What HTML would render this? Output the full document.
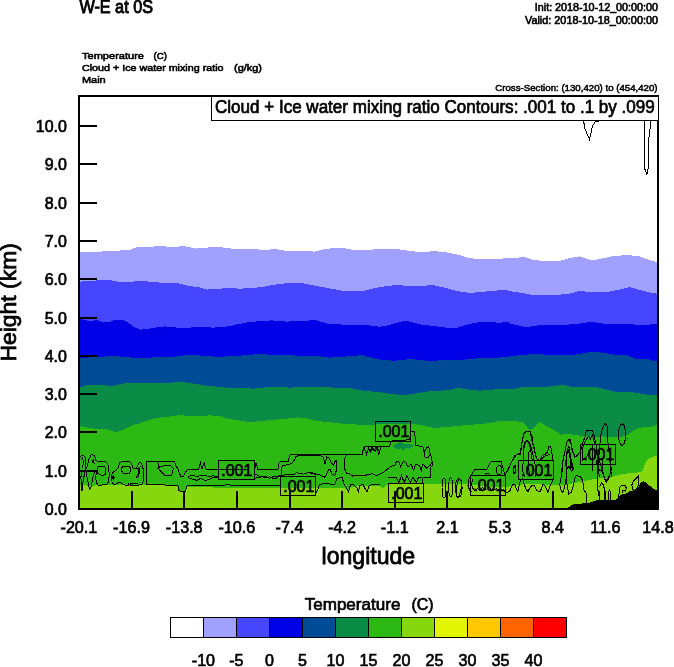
<!DOCTYPE html>
<html><head><meta charset="utf-8"><title>W-E at 0S</title>
<style>html,body{margin:0;padding:0;background:#fff}svg{display:block}text{font-family:"Liberation Sans",sans-serif;fill:#000}</style></head><body>
<svg width="674" height="667" viewBox="0 0 674 667">
<rect width="674" height="667" fill="#fff"/>
<g shape-rendering="crispEdges">
<polygon fill="#A0A0FF" points="79.0,252.3 80.4,252.3 96.0,251.8 114.0,250.9 129.6,249.9 135.6,247.5 150.0,246.8 159.6,246.1 174.0,247.0 183.5,246.1 195.5,248.5 207.5,247.5 217.1,246.8 226.7,248.0 236.3,249.2 238.0,249.2 250.0,248.5 262.0,249.9 276.4,249.2 286.0,250.9 300.4,250.9 314.8,251.6 324.4,249.2 334.0,248.0 343.5,248.0 355.5,250.4 367.5,249.7 381.9,249.2 396.3,249.2 398.0,249.2 410.0,250.9 422.0,252.3 434.0,251.1 446.0,252.3 458.0,254.7 470.0,258.3 484.4,259.3 498.7,258.8 510.0,258.1 510.7,258.1 524.4,257.1 534.0,260.0 546.0,261.2 558.0,261.2 570.0,258.1 579.6,256.4 591.6,260.5 603.6,258.1 615.5,255.7 629.9,255.2 639.5,256.4 649.1,260.0 656.8,261.9 658.0,261.9 658.0,509.0 79.0,509.0"/>
<polygon fill="#4646FF" points="79.0,281.6 80.4,281.6 97.2,280.4 109.2,279.9 121.2,282.3 129.6,282.3 138.0,280.9 150.0,281.6 162.0,282.8 178.7,283.5 188.3,285.9 197.9,287.1 207.5,289.5 217.1,289.3 226.7,287.6 236.3,288.3 238.0,288.8 250.0,288.1 262.0,287.1 274.0,284.7 286.0,283.3 302.8,283.3 314.8,285.7 329.2,288.3 341.1,290.5 353.1,290.7 365.1,290.5 377.1,287.6 389.1,285.7 396.3,285.2 398.0,285.2 410.0,285.9 422.0,285.7 434.0,285.2 446.0,288.1 458.0,291.2 470.0,292.9 482.0,291.9 494.0,290.7 505.9,290.0 510.0,291.2 522.0,292.9 534.0,295.3 546.0,294.8 558.0,294.8 570.0,293.6 579.6,290.7 591.6,292.4 606.0,292.4 617.9,290.0 629.9,287.1 639.5,290.0 649.1,292.4 656.8,293.6 658.0,293.6 658.0,509.0 79.0,509.0"/>
<polygon fill="#0000E6" points="79.0,318.8 80.4,318.8 87.6,320.7 97.2,320.4 104.4,322.4 109.2,322.4 114.0,320.0 123.6,320.0 129.6,323.6 134.4,327.2 140.4,329.6 147.6,329.1 154.8,327.6 164.4,326.4 174.0,327.2 183.5,328.4 193.1,327.2 202.7,326.7 212.3,327.6 221.9,327.2 231.5,326.0 236.3,324.3 238.0,324.3 247.6,322.4 259.6,321.2 271.6,320.4 286.0,321.6 300.4,321.2 314.8,320.0 322.0,321.9 329.2,324.3 338.7,324.3 348.3,325.2 357.9,324.8 367.5,325.2 379.5,326.7 389.1,325.2 396.3,322.8 398.0,322.4 405.2,320.7 412.4,322.4 422.0,324.8 434.0,326.0 446.0,327.6 455.6,328.4 465.2,325.2 477.2,322.4 489.2,321.9 498.7,322.8 508.3,321.9 510.0,323.6 517.2,325.2 526.8,327.2 538.8,325.2 550.8,324.8 565.2,324.8 579.6,323.6 591.6,321.9 606.0,324.0 617.9,323.6 629.9,324.3 639.5,324.8 646.7,325.2 653.9,323.6 656.8,323.6 658.0,323.6 658.0,509.0 79.0,509.0"/>
<polygon fill="#004B96" points="79.0,357.9 80.4,357.9 97.2,357.1 114.0,355.9 126.0,357.1 140.4,358.3 157.2,357.1 174.0,356.7 185.9,355.2 197.9,355.2 207.5,356.4 221.9,356.7 236.3,355.9 238.0,355.9 250.0,354.7 262.0,354.0 274.0,355.2 290.8,355.2 305.2,356.4 317.2,355.9 329.2,357.6 343.5,356.7 353.1,355.9 362.7,355.2 372.3,357.9 384.3,360.3 396.3,360.7 398.0,360.3 410.0,359.1 422.0,360.0 429.2,361.2 441.2,360.3 453.2,360.0 465.2,359.5 477.2,358.3 494.0,357.9 508.3,356.7 510.0,355.9 522.0,355.2 534.0,353.5 546.0,354.7 558.0,355.2 572.4,355.2 582.0,353.5 591.6,351.6 603.6,352.8 615.5,354.7 627.5,355.2 637.1,359.5 646.7,359.1 653.9,360.7 656.8,361.2 658.0,361.2 658.0,509.0 79.0,509.0"/>
<polygon fill="#0A8C46" points="79.0,387.1 80.4,387.1 87.6,385.2 97.2,384.7 111.6,385.9 126.0,383.0 140.4,382.8 157.2,382.8 169.2,382.8 181.1,381.8 193.1,383.5 207.5,385.9 221.9,387.1 231.5,388.3 236.3,387.6 238.0,387.6 245.2,387.6 252.4,388.8 262.0,387.6 276.4,387.1 290.8,387.6 305.2,387.1 319.6,387.1 334.0,387.6 350.7,388.3 362.7,390.7 377.1,391.9 389.1,393.6 396.3,394.3 398.0,394.8 407.6,394.8 417.2,393.1 429.2,391.4 441.2,390.7 450.8,389.5 458.0,387.8 467.6,389.5 479.6,390.7 494.0,389.5 505.9,388.8 510.0,389.5 522.0,387.1 534.0,387.1 548.4,386.6 562.8,384.7 572.4,387.1 582.0,387.1 594.0,386.6 606.0,389.5 615.5,391.9 629.9,391.9 644.3,394.3 656.8,395.5 658.0,395.5 658.0,509.0 79.0,509.0"/>
<polygon fill="#2DB914" points="79.0,426.2 80.1,426.2 90.6,428.3 99.0,428.9 107.4,429.3 115.8,432.1 124.2,429.3 132.6,425.1 141.0,423.0 149.4,419.9 157.8,417.8 168.3,416.7 178.7,415.3 189.2,415.7 199.7,416.1 210.2,415.3 216.5,416.1 218.0,415.7 228.5,418.8 239.0,420.5 249.5,422.0 260.0,421.3 272.6,419.9 285.2,418.8 297.8,417.4 306.2,418.4 316.7,420.9 327.1,422.0 339.7,423.4 348.1,424.1 356.5,424.5 358.0,424.5 374.8,424.5 410.5,423.7 421.0,425.1 433.6,427.9 446.2,427.2 458.7,425.8 471.3,424.7 483.9,423.7 496.5,422.0 498.0,420.9 510.6,420.9 523.2,422.0 529.5,430.4 534.7,427.2 540.0,422.0 546.3,426.2 554.7,430.4 558.9,433.5 560.0,434.7 566.6,433.9 573.2,434.7 579.8,435.6 586.4,436.4 593.0,437.2 602.9,436.4 612.8,437.2 619.4,437.2 626.0,435.6 630.9,432.3 635.9,429.0 642.5,427.3 649.1,427.3 657.3,424.8 658.0,424.8 658.0,509.0 79.0,509.0"/>
<polygon fill="#87D70F" points="79.0,485.0 80.0,485.0 91.0,486.0 99.0,485.0 120.0,485.0 145.0,484.5 170.0,485.0 177.0,486.0 179.0,491.5 185.0,491.5 188.0,486.5 195.0,487.0 220.0,487.7 250.0,488.0 280.0,488.0 316.0,487.8 343.0,487.5 346.0,489.0 348.0,491.0 351.0,487.0 360.0,486.0 378.0,485.5 383.0,488.0 387.0,485.0 388.0,484.5 395.0,484.0 423.0,483.8 440.0,483.5 468.0,483.8 475.0,485.0 485.0,486.5 500.0,487.2 506.0,487.0 512.0,486.0 518.0,485.0 524.0,484.3 530.0,484.0 545.0,484.6 558.0,485.3 565.4,484.9 572.8,483.4 580.3,481.9 587.7,480.4 595.1,478.9 602.5,478.2 609.9,477.4 617.3,475.5 624.8,473.7 632.2,473.0 639.6,472.3 642.6,470.8 644.0,466.3 645.5,462.6 648.5,458.9 653.0,456.7 657.0,456.0 658.0,456.0 658.0,509.0 79.0,509.0"/>
<polygon fill="#0A8C46" points="392.3,446.1 396.0,444.0 398.6,442.5 400.1,439.3 401.7,442.5 404.3,444.0 408.4,443.5 411.0,444.5 413.6,446.1 411.0,447.7 408.4,448.7 405.8,447.7 403.2,450.3 400.6,448.2 397.5,449.2 394.9,448.2"/>
<polygon fill="#000" points="566.5,509.0 568.0,507.8 571.2,505.7 573.2,504.1 581.5,503.6 589.8,502.6 597.1,500.0 604.4,500.0 615.8,500.0 618.9,495.8 622.0,494.3 626.2,493.7 629.3,491.2 634.5,490.1 638.6,487.0 640.7,482.8 643.8,481.3 646.9,483.4 651.1,487.0 654.2,489.1 657.3,490.1 658.0,509.0"/>
</g>
<g fill="none" stroke="#000" stroke-width="1" shape-rendering="crispEdges">
<polyline points="583.5,120.7 585.0,129.0 589.5,139.5 592.5,126.0 595.5,121.5 599.2,121.5"/>
<polyline points="644.5,120.7 644.5,168.0 646.9,174.7 648.3,168.0 648.7,139.5 651.0,120.7"/>
<polyline points="80.2,456.5 82.9,455.1 85.1,457.3 85.6,463.6 85.1,468.9 84.7,472.5 83.8,477.8 82.9,482.3 82.5,487.6 82.0,491.2 81.1,487.6 81.6,482.3 80.7,477.8 82.0,472.5"/>
<polyline points="81.1,458.7 82.5,457.8 83.3,460.9 82.9,466.2 82.0,468.0"/>
<polyline points="86.5,468.9 87.8,463.6 89.6,457.3 91.4,454.7 94.0,455.1 95.4,458.2 95.8,460.9 98.9,461.3 105.6,461.3 107.8,463.6 108.7,468.0 109.2,474.3 108.7,481.4 106.5,484.5 98.5,485.4 96.2,482.7 95.8,477.8 96.2,472.5 97.1,469.8"/>
<polyline points="86.9,469.8 86.5,474.3 87.8,481.4 89.1,487.6 90.0,489.4 91.4,485.8 92.7,477.8 94.5,472.5 95.8,469.8"/>
<polyline points="92.2,460.5 93.6,459.6 94.0,463.1 92.7,462.7 92.2,460.5"/>
<polyline points="98.0,466.7 103.8,466.2 105.6,467.6 106.0,473.4 104.7,474.7 102.0,475.6 99.4,474.3 97.1,473.4 97.1,469.8 98.0,466.7"/>
<polyline points="111.8,481.4 111.4,476.0 112.7,472.5 116.3,469.8 118.5,467.1 119.8,462.7 122.5,461.3 129.2,461.3 131.4,463.1 132.3,466.2 133.2,468.5 138.0,468.9"/>
<polyline points="111.8,481.4 113.6,484.5 116.3,484.0 118.5,482.3 121.6,483.2 126.1,485.4 129.2,484.9 130.5,484.0 138.0,483.6"/>
<polyline points="122.1,467.1 123.8,466.2 128.7,466.2 130.5,468.0 130.5,471.6 128.7,473.8 124.3,473.8 122.1,472.0 121.6,468.9 122.1,467.1"/>
<polyline points="112.3,476.5 113.2,475.6 114.1,477.4 113.2,479.2 112.3,478.3 112.3,476.5"/>
<polyline points="133.3,468.5 136.0,468.5 137.8,465.4 139.1,462.7 140.5,462.2 142.2,465.4 143.6,470.7 143.6,480.5 141.8,484.9 130.7,485.4 128.0,483.6"/>
<polyline points="139.1,468.0 140.0,467.1 139.6,472.5 137.8,477.4 136.5,477.4 138.2,473.4 139.1,468.0"/>
<polyline points="146.2,484.0 146.2,463.6 147.1,461.3 174.3,461.3 176.1,466.2 177.9,468.5 180.5,476.0 183.2,476.9 185.9,471.6 188.0,468.9"/>
<polyline points="146.2,484.0 163.6,484.0 165.4,485.4 177.9,485.4 178.7,490.3 181.4,491.6 185.0,491.6 186.8,487.6 187.2,484.9"/>
<polyline points="157.4,461.3 158.7,465.4 157.8,468.9 159.2,467.1 164.5,465.4 170.7,465.4 173.4,468.5 172.5,472.9 171.2,475.1 164.5,475.1 161.8,472.5 159.2,469.4"/>
<polyline points="186.7,469.7 198.7,469.0 200.5,462.6 202.1,468.8 204.1,462.6 205.8,469.0 218.4,469.7 248.0,469.7"/>
<polyline points="186.7,485.1 224.8,485.1 227.4,484.4 230.1,485.1 248.0,485.1"/>
<polyline points="188.0,477.0 192.7,475.0 196.7,477.0 200.7,475.0 204.7,475.0 208.7,477.0 212.7,475.7 218.1,477.0"/>
<polyline points="188.0,477.7 192.7,479.1 196.7,480.4 200.7,478.4 204.7,480.4 208.7,479.7 212.7,477.7 218.1,477.7"/>
<polyline points="254.7,469.4 255.7,463.7 256.8,463.2 257.3,469.4 278.0,469.4 279.1,462.7 281.2,461.1 288.4,461.1 289.5,456.4 290.5,454.3 320.0,454.3"/>
<polyline points="281.2,475.1 281.2,468.4 283.2,465.3 288.4,464.7 292.6,462.7 294.7,459.5 295.7,456.9 298.8,455.4 306.1,455.9 312.3,455.4 320.0,455.9"/>
<polyline points="254.2,475.1 256.2,474.6 259.3,476.2 263.5,477.2 266.6,476.7 269.7,478.2 272.8,476.7 276.0,476.2 278.0,477.2 280.6,475.6"/>
<polyline points="254.2,478.2 259.3,477.7 263.5,476.2 266.6,477.7 269.7,476.7 272.8,478.2 276.0,478.8 278.0,476.2 280.6,475.1"/>
<polyline points="281.2,475.1 294.7,474.6 296.7,472.5 299.9,473.6 304.0,474.1 308.2,472.5 313.4,473.0 315.4,475.1"/>
<polyline points="237.5,485.0 280.1,485.0"/>
<polyline points="310.0,454.9 361.9,454.9 364.0,446.6 380.0,446.6"/>
<polyline points="364.0,446.6 366.6,454.3 368.7,447.6 370.2,452.8 372.3,447.6 375.4,451.2 377.5,447.6 380.0,453.8"/>
<polyline points="310.0,455.9 319.3,455.4 323.0,456.9 325.1,464.2 326.6,456.9 328.7,457.5 331.3,462.7 333.4,465.3 335.4,460.6 337.0,460.6 336.5,469.9 334.9,475.1 332.3,474.6 330.3,469.9 328.7,469.9 326.6,474.1 324.5,477.2 320.4,475.1 316.2,474.6 314.2,473.0 310.0,473.0"/>
<polyline points="346.4,455.4 344.3,459.5 344.8,468.9 346.9,474.1 349.5,473.6 352.6,476.2 356.7,475.1 366.1,475.1 372.3,473.6 376.5,475.6 380.0,474.1"/>
<polyline points="315.7,492.8 317.3,490.7 319.3,485.0 322.5,483.9 328.7,483.4 331.8,485.0 334.9,484.5 337.0,478.2 342.2,477.7 344.3,485.0 346.4,487.6 348.4,491.7 350.5,485.0 353.6,484.5 356.7,487.6 358.3,491.7 359.9,485.5 363.0,484.5 365.0,488.6 367.1,491.7 369.2,485.5 372.3,484.5 380.0,484.5"/>
<polyline points="370.0,446.6 389.7,446.1 390.8,442.5 392.3,440.4 409.5,439.9 411.0,431.6 414.7,431.6 415.7,445.6 423.0,446.6 424.0,452.3 426.6,447.7 428.7,446.6 430.2,453.9 431.8,458.0 432.3,465.3 430.2,468.4 430.2,477.3 423.0,477.8 422.4,484.0"/>
<polyline points="370.0,451.3 371.6,447.7 374.2,450.8 376.2,447.1 378.8,454.4 380.4,448.2 380.9,446.6"/>
<polyline points="423.0,446.6 425.0,457.0 428.2,458.0 430.2,453.9"/>
<polyline points="380.4,473.6 383.5,472.6 387.7,468.9 390.8,466.4 394.9,465.3 396.5,461.2 399.1,462.2 400.6,466.9 403.2,461.2 405.8,462.2 407.9,466.9 411.0,464.3 413.6,470.0 415.7,464.3 419.3,465.3 421.4,471.5 422.4,464.3 424.0,464.8 426.1,468.4 430.2,465.3 432.3,462.2"/>
<polyline points="388.0,477.7 396.1,477.7 398.8,482.5 401.5,475.7 404.2,482.5 406.9,475.7 410.3,482.5 413.0,477.1 416.3,482.5 418.4,477.7 421.7,477.7"/>
<ellipse cx="444.0" cy="487.9" rx="2.0" ry="10.1"/>
<ellipse cx="450.7" cy="487.2" rx="2.0" ry="9.4"/>
<ellipse cx="458.8" cy="487.9" rx="2.3" ry="9.4" transform="rotate(8 458.8 487.9)"/>
<polyline points="470.4,490.6 468.8,487.9 468.8,479.8 471.5,474.4 474.9,469.6 487.0,469.0 489.0,464.9 491.1,461.6 501.2,461.6 503.2,469.0 504.6,474.4 507.3,471.7 511.3,462.2 516.0,454.8 520.1,454.1 522.1,442.0 524.1,433.2 526.8,431.2 530.2,431.9 532.2,442.0 534.2,447.4 535.6,455.5 537.6,460.2"/>
<polyline points="523.4,460.9 524.1,446.0 526.1,440.6 528.2,441.3 530.2,447.4 531.5,455.5 532.2,460.9"/>
<ellipse cx="499.2" cy="470.1" rx="2.7" ry="4.6"/>
<polyline points="505.9,492.3 509.5,491.7 511.3,487.5 513.0,484.0 514.8,484.6 516.6,489.3 517.8,491.7 519.0,485.7 520.8,479.8 522.5,478.6 524.3,484.6 526.1,489.3 527.9,491.7 529.7,488.1 532.0,485.1 534.4,485.7 536.8,490.5 539.2,491.7 542.0,488.7"/>
<polyline points="471.5,491.7 469.7,490.5 467.9,485.7 468.5,479.8 470.3,476.2"/>
<polyline points="472.7,478.6 471.5,484.6 473.3,489.3 475.1,491.1"/>
<polyline points="484.6,475.6 485.7,473.9 488.7,473.3 490.5,475.6"/>
<polyline points="475.1,491.1 477.4,488.7 479.8,490.5 482.2,487.5 485.7,489.9 489.3,487.5 492.9,490.5 496.4,488.7 500.0,491.1 503.5,489.9 505.9,492.3"/>
<ellipse cx="458.7" cy="487.9" rx="3.4" ry="9.4"/>
<ellipse cx="514.7" cy="469.0" rx="1.1" ry="4.0"/>
<polyline points="505.0,474.9 508.1,468.6 511.2,462.4 514.3,456.2 517.5,454.1 520.6,453.0 522.1,442.7 523.7,433.3 525.8,431.2 529.9,431.2 532.0,436.4 533.0,444.7 535.1,453.0 537.2,459.3 540.3,460.3 542.4,455.1 545.5,454.1 547.6,452.0 548.6,446.8 550.7,446.3 551.7,452.0 552.8,460.3"/>
<polyline points="523.2,460.3 523.7,445.8 525.3,441.6 527.3,440.6 529.9,443.7 531.5,448.9 533.0,455.1 534.1,460.3"/>
<polyline points="528.4,460.3 528.9,452.0 530.4,448.9 531.5,451.0"/>
<polyline points="540.3,460.3 544.5,456.2 547.6,455.1 549.7,454.1"/>
<polyline points="561.6,476.9 563.2,459.3 565.2,449.9 567.3,440.6 570.4,439.5 571.5,445.8 573.0,452.0 575.0,456.2"/>
<polyline points="565.8,466.5 566.3,456.2 567.3,448.9 568.9,446.8 569.9,453.0 571.5,461.4 573.5,468.6 571.5,470.7 569.4,466.5 567.3,467.6 565.8,466.5"/>
<polyline points="513.3,469.7 514.9,466.0 515.9,468.6 514.9,473.8 513.3,472.8 513.3,469.7"/>
<polyline points="523.2,460.3 522.7,470.7 524.2,476.9"/>
<polyline points="534.1,460.3 536.2,469.7 535.1,476.9"/>
<polyline points="528.4,460.3 529.4,476.9"/>
<ellipse cx="622.1" cy="434.6" rx="3.6" ry="10.7"/>
<polyline points="599.3,476.9 598.2,464.5 599.8,444.7 600.8,435.4 602.4,428.1 605.0,422.9 607.1,426.0 607.6,435.4 608.1,444.7 610.7,464.5 611.2,476.9"/>
<polyline points="565.0,451.0 566.6,442.7 568.6,439.5 570.7,442.7 572.3,451.0 574.9,457.2 577.5,455.1 580.6,451.0 583.2,441.6 585.3,436.4 586.3,430.7 592.5,430.2 594.1,435.4 595.1,440.6 596.2,444.2 597.2,456.2 598.8,470.7"/>
<polyline points="566.0,466.5 566.6,456.2 568.1,448.9 569.7,456.2 571.2,464.5 572.8,469.7 571.2,470.7 569.2,467.1 566.0,468.6 566.0,466.5"/>
<polyline points="584.2,444.2 586.3,439.5 588.4,436.4 590.4,439.0 592.5,435.4 593.6,439.5 594.6,444.2"/>
<polyline points="583.2,444.7 582.1,460.3 586.8,456.2 589.9,451.0"/>
<polyline points="592.5,444.7 593.0,470.7"/>
<polyline points="540.0,492.2 543.1,483.9 545.2,486.0 547.8,492.2 550.4,484.9 553.0,479.7 553.5,462.1"/>
<polyline points="562.3,460.0 561.8,474.5 559.7,484.9 561.3,491.2 562.8,492.2 564.9,486.0 566.0,478.7 566.5,469.3 565.4,460.0"/>
<polyline points="566.0,477.7 567.5,487.0 568.6,494.3 571.2,492.2 573.2,486.0 574.8,478.7 576.4,475.6 580.5,476.6 582.6,480.8 584.1,490.1 586.2,493.2 586.2,502.6"/>
<polyline points="566.5,469.3 568.0,467.3 571.2,466.8 573.2,469.3 571.2,471.4 570.1,462.1"/>
<polyline points="596.6,460.0 597.6,470.4 597.1,480.8 597.6,489.1 599.7,492.2 599.7,499.5"/>
<polyline points="601.3,482.8 603.4,484.9 604.9,490.1 605.9,499.5"/>
<polyline points="598.2,469.3 602.3,471.4 604.4,478.7 606.5,481.8 610.0,476.6"/>
<polyline points="602.8,460.0 602.3,470.4 604.4,478.7"/>
<polyline points="599.2,460.0 602.3,470.4 605.9,481.3 609.5,475.6 611.6,469.3 609.5,460.0"/>
<polyline points="597.1,460.0 597.1,478.7 597.6,489.1 599.7,500.0"/>
<polyline points="599.7,487.0 601.8,482.3 603.3,486.0 604.9,491.2 605.4,500.0"/>
<polyline points="608.0,500.0 608.3,492.2 609.5,490.1 610.6,492.2 610.8,500.0"/>
<polyline points="618.9,495.8 619.4,488.0 621.5,485.4 625.1,485.4 626.2,488.0 625.6,491.2 624.1,490.1 622.5,490.6 622.0,493.2"/>
<polyline points="631.9,484.9 633.4,480.8 636.5,478.2 638.6,475.6 638.6,483.9 636.5,490.1 634.5,491.2 632.4,488.6 631.9,484.9"/>
<polyline points="627.0,438.2 627.6,438.2"/>
</g>
<g>
<rect x="218.5" y="460.5" width="36.0" height="19.0" fill="none" stroke="#000" stroke-width="1" shape-rendering="crispEdges"/>
<text x="221.3" y="476.1" font-size="16" textLength="31.1" lengthAdjust="spacingAndGlyphs" stroke="#000" stroke-width="0.7">.001</text>
<rect x="280.5" y="476.5" width="35.0" height="19.0" fill="none" stroke="#000" stroke-width="1" shape-rendering="crispEdges"/>
<text x="283.3" y="492.1" font-size="16" textLength="31.1" lengthAdjust="spacingAndGlyphs" stroke="#000" stroke-width="0.7">.001</text>
<rect x="375.5" y="421.5" width="35.0" height="20.0" fill="none" stroke="#000" stroke-width="1" shape-rendering="crispEdges"/>
<text x="378.3" y="437.1" font-size="16" textLength="31.1" lengthAdjust="spacingAndGlyphs" stroke="#000" stroke-width="0.7">.001</text>
<rect x="388.5" y="483.5" width="35.0" height="19.0" fill="none" stroke="#000" stroke-width="1" shape-rendering="crispEdges"/>
<text x="391.3" y="499.1" font-size="16" textLength="31.1" lengthAdjust="spacingAndGlyphs" stroke="#000" stroke-width="0.7">.001</text>
<rect x="470.5" y="475.5" width="35.0" height="20.0" fill="none" stroke="#000" stroke-width="1" shape-rendering="crispEdges"/>
<text x="473.3" y="491.1" font-size="16" textLength="31.1" lengthAdjust="spacingAndGlyphs" stroke="#000" stroke-width="0.7">.001</text>
<rect x="518.5" y="460.5" width="35.0" height="19.0" fill="none" stroke="#000" stroke-width="1" shape-rendering="crispEdges"/>
<text x="521.3" y="476.1" font-size="16" textLength="31.1" lengthAdjust="spacingAndGlyphs" stroke="#000" stroke-width="0.7">.001</text>
<rect x="580.5" y="444.5" width="35.0" height="20.0" fill="none" stroke="#000" stroke-width="1" shape-rendering="crispEdges"/>
<text x="583.3" y="460.1" font-size="16" textLength="31.1" lengthAdjust="spacingAndGlyphs" stroke="#000" stroke-width="0.7">.001</text>
</g>
<g shape-rendering="crispEdges" stroke="#000" stroke-width="2" fill="none">
<rect x="79" y="96" width="579" height="413"/>
<line x1="79" y1="471" x2="97" y2="471"/>
<line x1="79" y1="432" x2="97" y2="432"/>
<line x1="79" y1="394" x2="97" y2="394"/>
<line x1="79" y1="356" x2="97" y2="356"/>
<line x1="79" y1="318" x2="97" y2="318"/>
<line x1="79" y1="279" x2="97" y2="279"/>
<line x1="79" y1="241" x2="97" y2="241"/>
<line x1="79" y1="203" x2="97" y2="203"/>
<line x1="79" y1="164" x2="97" y2="164"/>
<line x1="79" y1="126" x2="97" y2="126"/>
<line x1="132" y1="509" x2="132" y2="491"/>
<line x1="184" y1="509" x2="184" y2="491"/>
<line x1="237" y1="509" x2="237" y2="491"/>
<line x1="290" y1="509" x2="290" y2="491"/>
<line x1="342" y1="509" x2="342" y2="491"/>
<line x1="395" y1="509" x2="395" y2="491"/>
<line x1="447" y1="509" x2="447" y2="491"/>
<line x1="500" y1="509" x2="500" y2="491"/>
<line x1="553" y1="509" x2="553" y2="491"/>
<line x1="605" y1="509" x2="605" y2="491"/>
</g>
<rect x="211.5" y="96" width="446.5" height="24.5" fill="#fff" stroke="#000" stroke-width="1" shape-rendering="crispEdges"/>
<text x="215.0" y="112.6" font-size="18" textLength="439.7" lengthAdjust="spacingAndGlyphs" stroke="#000" stroke-width="0.7">Cloud + Ice water mixing ratio Contours: .001 to .1 by .099</text>
<text x="79.4" y="13.3" font-size="17.9" textLength="73.6" lengthAdjust="spacingAndGlyphs" stroke="#000" stroke-width="0.9">W-E at 0S</text>
<text x="534.8" y="11.3" font-size="10.5" textLength="123.2" lengthAdjust="spacingAndGlyphs" stroke="#000" stroke-width="0.6">Init: 2018-10-12_00:00:00</text>
<text x="525.0" y="23.7" font-size="10.5" textLength="133.0" lengthAdjust="spacingAndGlyphs" stroke="#000" stroke-width="0.6">Valid: 2018-10-18_00:00:00</text>
<text x="82.0" y="59.3" font-size="9.9" textLength="62.0" lengthAdjust="spacingAndGlyphs" stroke="#000" stroke-width="0.6">Temperature</text>
<text x="153.6" y="59.3" font-size="9.9" textLength="13.5" lengthAdjust="spacingAndGlyphs" stroke="#000" stroke-width="0.6">(C)</text>
<text x="82.0" y="71.1" font-size="9.9" textLength="141.5" lengthAdjust="spacingAndGlyphs" stroke="#000" stroke-width="0.6">Cloud + Ice water mixing ratio</text>
<text x="234.0" y="71.1" font-size="9.9" textLength="28.0" lengthAdjust="spacingAndGlyphs" stroke="#000" stroke-width="0.6">(g/kg)</text>
<text x="82.0" y="83.0" font-size="9.9" textLength="23.7" lengthAdjust="spacingAndGlyphs" stroke="#000" stroke-width="0.6">Main</text>
<text x="495.3" y="91.0" font-size="9.3" textLength="162.3" lengthAdjust="spacingAndGlyphs" stroke="#000" stroke-width="0.5">Cross-Section: (130,420) to (454,420)</text>
<text transform="translate(66.9,515.0) scale(0.94,1)" font-size="17" text-anchor="end" stroke="#000" stroke-width="0.7">0.0</text>
<text transform="translate(66.9,476.7) scale(0.94,1)" font-size="17" text-anchor="end" stroke="#000" stroke-width="0.7">1.0</text>
<text transform="translate(66.9,438.4) scale(0.94,1)" font-size="17" text-anchor="end" stroke="#000" stroke-width="0.7">2.0</text>
<text transform="translate(66.9,400.1) scale(0.94,1)" font-size="17" text-anchor="end" stroke="#000" stroke-width="0.7">3.0</text>
<text transform="translate(66.9,361.8) scale(0.94,1)" font-size="17" text-anchor="end" stroke="#000" stroke-width="0.7">4.0</text>
<text transform="translate(66.9,323.5) scale(0.94,1)" font-size="17" text-anchor="end" stroke="#000" stroke-width="0.7">5.0</text>
<text transform="translate(66.9,285.2) scale(0.94,1)" font-size="17" text-anchor="end" stroke="#000" stroke-width="0.7">6.0</text>
<text transform="translate(66.9,246.9) scale(0.94,1)" font-size="17" text-anchor="end" stroke="#000" stroke-width="0.7">7.0</text>
<text transform="translate(66.9,208.6) scale(0.94,1)" font-size="17" text-anchor="end" stroke="#000" stroke-width="0.7">8.0</text>
<text transform="translate(66.9,170.3) scale(0.94,1)" font-size="17" text-anchor="end" stroke="#000" stroke-width="0.7">9.0</text>
<text transform="translate(66.9,132.0) scale(0.94,1)" font-size="17" text-anchor="end" stroke="#000" stroke-width="0.7">10.0</text>
<text transform="translate(78.9,533.2) scale(0.95,1)" font-size="17" text-anchor="middle" stroke="#000" stroke-width="0.7">-20.1</text>
<text transform="translate(131.5,533.2) scale(0.95,1)" font-size="17" text-anchor="middle" stroke="#000" stroke-width="0.7">-16.9</text>
<text transform="translate(184.2,533.2) scale(0.95,1)" font-size="17" text-anchor="middle" stroke="#000" stroke-width="0.7">-13.8</text>
<text transform="translate(236.8,533.2) scale(0.95,1)" font-size="17" text-anchor="middle" stroke="#000" stroke-width="0.7">-10.6</text>
<text transform="translate(289.5,533.2) scale(0.95,1)" font-size="17" text-anchor="middle" stroke="#000" stroke-width="0.7">-7.4</text>
<text transform="translate(342.1,533.2) scale(0.95,1)" font-size="17" text-anchor="middle" stroke="#000" stroke-width="0.7">-4.2</text>
<text transform="translate(394.7,533.2) scale(0.95,1)" font-size="17" text-anchor="middle" stroke="#000" stroke-width="0.7">-1.1</text>
<text transform="translate(447.4,533.2) scale(0.95,1)" font-size="17" text-anchor="middle" stroke="#000" stroke-width="0.7">2.1</text>
<text transform="translate(500.0,533.2) scale(0.95,1)" font-size="17" text-anchor="middle" stroke="#000" stroke-width="0.7">5.3</text>
<text transform="translate(552.7,533.2) scale(0.95,1)" font-size="17" text-anchor="middle" stroke="#000" stroke-width="0.7">8.4</text>
<text transform="translate(605.3,533.2) scale(0.95,1)" font-size="17" text-anchor="middle" stroke="#000" stroke-width="0.7">11.6</text>
<text transform="translate(657.9,533.2) scale(0.95,1)" font-size="17" text-anchor="middle" stroke="#000" stroke-width="0.7">14.8</text>
<text x="321.6" y="563.9" font-size="23.4" textLength="93.5" lengthAdjust="spacingAndGlyphs" stroke="#000" stroke-width="0.8">longitude</text>
<text font-size="22.8" text-anchor="middle" textLength="118.5" lengthAdjust="spacingAndGlyphs" stroke="#000" stroke-width="0.8" transform="translate(15.7,302.3) rotate(-90)">Height (km)</text>
<text x="304.7" y="610.2" font-size="16.5" textLength="95.7" lengthAdjust="spacingAndGlyphs" stroke="#000" stroke-width="0.7">Temperature</text>
<text x="411.5" y="610.2" font-size="16.5" textLength="22.1" lengthAdjust="spacingAndGlyphs" stroke="#000" stroke-width="0.7">(C)</text>
<g shape-rendering="crispEdges" stroke="#000" stroke-width="1">
<rect x="170.5" y="617.5" width="33" height="19.5" fill="#FFFFFF"/>
<rect x="203.5" y="617.5" width="33" height="19.5" fill="#A0A0FF"/>
<rect x="236.5" y="617.5" width="33" height="19.5" fill="#4646FF"/>
<rect x="269.5" y="617.5" width="33" height="19.5" fill="#0000E6"/>
<rect x="302.5" y="617.5" width="33" height="19.5" fill="#004B96"/>
<rect x="335.5" y="617.5" width="33" height="19.5" fill="#0A8C46"/>
<rect x="368.5" y="617.5" width="33" height="19.5" fill="#2DB914"/>
<rect x="401.5" y="617.5" width="33" height="19.5" fill="#87D70F"/>
<rect x="434.5" y="617.5" width="33" height="19.5" fill="#E1F505"/>
<rect x="467.5" y="617.5" width="33" height="19.5" fill="#FFC800"/>
<rect x="500.5" y="617.5" width="33" height="19.5" fill="#FF6400"/>
<rect x="533.5" y="617.5" width="33" height="19.5" fill="#FF0000"/>
</g>
<text transform="translate(203.4,665.5) scale(0.93,1)" font-size="17.3" text-anchor="middle" stroke="#000" stroke-width="0.7">-10</text>
<text transform="translate(236.4,665.5) scale(0.93,1)" font-size="17.3" text-anchor="middle" stroke="#000" stroke-width="0.7">-5</text>
<text transform="translate(269.4,665.5) scale(0.93,1)" font-size="17.3" text-anchor="middle" stroke="#000" stroke-width="0.7">0</text>
<text transform="translate(302.4,665.5) scale(0.93,1)" font-size="17.3" text-anchor="middle" stroke="#000" stroke-width="0.7">5</text>
<text transform="translate(335.4,665.5) scale(0.93,1)" font-size="17.3" text-anchor="middle" stroke="#000" stroke-width="0.7">10</text>
<text transform="translate(368.4,665.5) scale(0.93,1)" font-size="17.3" text-anchor="middle" stroke="#000" stroke-width="0.7">15</text>
<text transform="translate(401.4,665.5) scale(0.93,1)" font-size="17.3" text-anchor="middle" stroke="#000" stroke-width="0.7">20</text>
<text transform="translate(434.4,665.5) scale(0.93,1)" font-size="17.3" text-anchor="middle" stroke="#000" stroke-width="0.7">25</text>
<text transform="translate(467.4,665.5) scale(0.93,1)" font-size="17.3" text-anchor="middle" stroke="#000" stroke-width="0.7">30</text>
<text transform="translate(500.4,665.5) scale(0.93,1)" font-size="17.3" text-anchor="middle" stroke="#000" stroke-width="0.7">35</text>
<text transform="translate(533.4,665.5) scale(0.93,1)" font-size="17.3" text-anchor="middle" stroke="#000" stroke-width="0.7">40</text>
</svg></body></html>
